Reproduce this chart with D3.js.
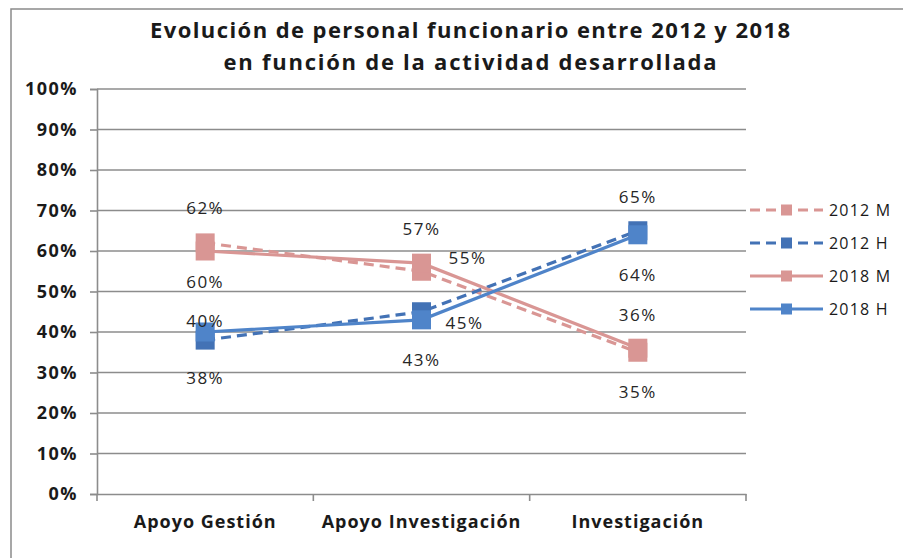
<!DOCTYPE html>
<html>
<head>
<meta charset="utf-8">
<script src="https://cdn.jsdelivr.net/npm/d3@7"></script>
<style>
  body { margin: 0; background: #fff; }
  svg { display: block; font-family: "Open Sans", sans-serif; }
</style>
</head>
<body>
<svg class="chart"></svg>
<script>
const categories = ['Apoyo Gestión', 'Apoyo Investigación', 'Investigación']
const seriesNames = ['2012 M', '2012 H', '2018 M', '2018 H']
const values2012M = [62, 55, 35]
const values2012H = [38, 45, 65]
const values2018M = [60, 57, 36]
const values2018H = [40, 43, 64]
const yTicks = [0, 10, 20, 30, 40, 50, 60, 70, 80, 90, 100]
const titleLines = ['Evolución de personal funcionario entre 2012 y 2018', 'en función de la actividad desarrollada']

// label placement relative to each marker [dx, dy]
const labelOffsets = [
  [[0, -35], [46, -13], [0, 40]],
  [[0, 38], [43, 11], [0, -34]],
  [[0, 31], [0, -34], [0, -33]],
  [[0, -11], [0, 40], [0, 40]]
]

const series = [
  { name: seriesNames[0], values: values2012M, color: '#D99694', dash: '10,6' },
  { name: seriesNames[1], values: values2012H, color: '#4372B5', dash: '10,6' },
  { name: seriesNames[2], values: values2018M, color: '#D99694', dash: null },
  { name: seriesNames[3], values: values2018H, color: '#4F84C9', dash: null }
]

const width = 903, height = 558
const svg = d3.select('.chart').attr('width', width).attr('height', height)

svg.append('rect')
  .attr('x', 11).attr('y', 9)
  .attr('width', 1000).attr('height', 1000)
  .attr('fill', '#fff')
  .attr('stroke', '#8a8a8a')
  .attr('stroke-width', 1.5)

const x = d3.scaleBand().domain(categories).range([97, 746])
const y = d3.scaleLinear().domain([0, 100]).range([494, 89])

// title, stretched to the width it has in the original
const titleWidths = [640, 493]
svg.append('g').selectAll('text')
  .data(titleLines)
  .enter().append('text')
  .attr('x', (d, i) => 470 - titleWidths[i] / 2)
  .attr('y', (d, i) => 38 + i * 32)
  .attr('font-size', 22)
  .attr('font-weight', 'bold')
  .attr('fill', '#1a1a1a')
  .attr('textLength', (d, i) => titleWidths[i])
  .attr('lengthAdjust', 'spacing')
  .text(d => d)

// gridlines
svg.append('g').selectAll('line')
  .data(yTicks.filter(d => d > 0))
  .enter().append('line')
  .attr('x1', x.range()[0]).attr('x2', x.range()[1])
  .attr('y1', d => y(d)).attr('y2', d => y(d))
  .attr('stroke', '#8c8c8c')
  .attr('stroke-width', 1.6)

const yAxis = svg.append('g')
  .attr('transform', `translate(${x.range()[0]},0)`)
  .call(d3.axisLeft(y).tickValues(yTicks).tickSize(7).tickPadding(12).tickFormat(d => d + '%'))
yAxis.select('.domain').attr('stroke', '#8c8c8c').attr('stroke-width', 1.6)
yAxis.selectAll('.tick line').attr('stroke', '#8c8c8c').attr('stroke-width', 1.6)
yAxis.selectAll('text')
  .attr('font-size', 18).attr('font-weight', 'bold').attr('fill', '#1a1a1a')
  .attr('letter-spacing', 1.5)
  .attr('font-family', '"Open Sans", sans-serif')

const xAxis = svg.append('g')
  .attr('transform', `translate(0,${y(0)})`)
  .call(d3.axisBottom(x).tickSize(0).tickPadding(21))
xAxis.select('.domain').attr('stroke', '#8c8c8c').attr('stroke-width', 1.6)
xAxis.selectAll('text')
  .attr('font-size', 18).attr('font-weight', 'bold').attr('fill', '#1a1a1a')
  .attr('letter-spacing', 1)
  .attr('font-family', '"Open Sans", sans-serif')
xAxis.append('g').selectAll('line')
  .data(d3.range(categories.length + 1))
  .enter().append('line')
  .attr('x1', i => x.range()[0] + i * x.step())
  .attr('x2', i => x.range()[0] + i * x.step())
  .attr('y1', 0).attr('y2', 7)
  .attr('stroke', '#8c8c8c').attr('stroke-width', 1.6)

const cx = c => x(c) + x.bandwidth() / 2
const line = d3.line().x((d, i) => cx(categories[i])).y(d => y(d))

const groups = svg.append('g').selectAll('g')
  .data(series)
  .enter().append('g')

groups.append('path')
  .attr('d', d => line(d.values))
  .attr('fill', 'none')
  .attr('stroke', d => d.color)
  .attr('stroke-width', 3.2)
  .attr('stroke-dasharray', d => d.dash)

const markerSize = 19
groups.selectAll('rect')
  .data(d => d.values.map((v, i) => ({ v, i, color: d.color })))
  .enter().append('rect')
  .attr('x', d => cx(categories[d.i]) - markerSize / 2)
  .attr('y', d => y(d.v) - markerSize / 2)
  .attr('width', markerSize).attr('height', markerSize)
  .attr('fill', d => d.color)

// data labels
const labels = svg.append('g')
series.forEach((s, si) => {
  labels.selectAll(null)
    .data(s.values)
    .enter().append('text')
    .attr('x', (v, i) => cx(categories[i]) + labelOffsets[si][i][0])
    .attr('y', (v, i) => y(v) + labelOffsets[si][i][1])
    .attr('dy', '0.35em')
    .attr('text-anchor', 'middle')
    .attr('font-size', 17)
    .attr('letter-spacing', 1.5)
    .attr('fill', '#262626')
    .text(v => v + '%')
})

// legend
const legend = svg.append('g').selectAll('g')
  .data(series)
  .enter().append('g')
  .attr('transform', (d, i) => `translate(750,${210 + i * 33})`)

legend.append('line')
  .attr('x1', 0).attr('x2', 73)
  .attr('stroke', d => d.color)
  .attr('stroke-width', 3.2)
  .attr('stroke-dasharray', d => d.dash)
legend.append('rect')
  .attr('x', 31).attr('y', -5.5)
  .attr('width', 11).attr('height', 11)
  .attr('fill', d => d.color)
legend.append('text')
  .attr('x', 79).attr('dy', '0.35em')
  .attr('font-size', 16)
  .attr('letter-spacing', 1.2)
  .attr('fill', '#1a1a1a')
  .text(d => d.name)
</script>
</body>
</html>
